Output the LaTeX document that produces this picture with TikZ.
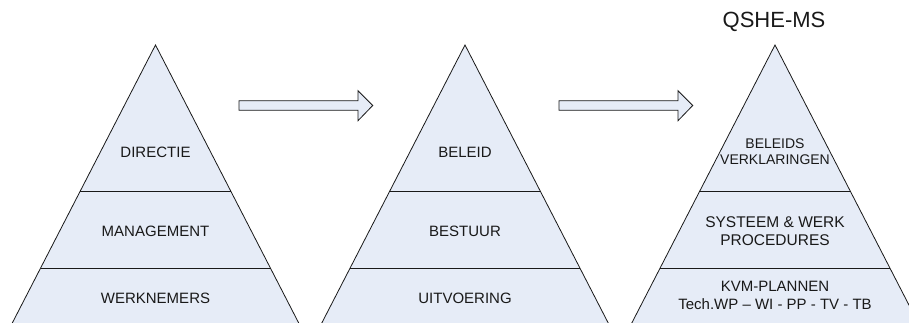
\documentclass[tikz,border=0pt]{standalone}
\usepackage{fontspec}
\setmainfont{Liberation Sans}
\definecolor{pyrfill}{RGB}{230,236,247}
\definecolor{pyrline}{RGB}{25,25,25}
\begin{document}
\begin{tikzpicture}[x=1pt,y=1pt,
  lbl/.style={font=\fontsize{15}{18}\selectfont, align=center, inner sep=0pt, text=pyrline},
  pyrside/.style={draw=pyrline, line width=0.8pt},
  blockarrow/.style={draw=pyrline, fill=pyrfill, line width=0.8pt, line join=miter}]
\useasboundingbox (0,0) rectangle (909,322);
\begin{scope}
\clip (0,0) rectangle (909,322);
\foreach \cx in {155.5,465,775} {
  \fill[pyrfill] (\cx,277) -- (\cx+153,-20) -- (\cx-153,-20) -- cycle;
  \draw[pyrside] (\cx-153,-20) -- (\cx,277) -- (\cx+153,-20);
  \draw[pyrside] (\cx-75.3,131) -- (\cx+75.3,131);
  \draw[pyrside] (\cx-115,54) -- (\cx+115,54);
}
\end{scope}
% block arrows
\foreach \ax in {239,559} {
  \draw[blockarrow] (\ax,211.7) -- (\ax+119,211.7) -- (\ax+119,201.3) -- (\ax+133.7,216.5)
     -- (\ax+119,231.3) -- (\ax+119,221.3) -- (\ax,221.3) -- cycle;
}
% labels
\node[lbl] (p1a) at (155.5,170) {DIRECTIE};
\node[lbl] (p1b) at (155.5,90.5) {MANAGEMENT};
\node[lbl] (p1c) at (155.5,24) {WERKNEMERS};
\node[lbl] (p2a) at (465,170) {BELEID};
\node[lbl] (p2b) at (465,90.5) {BESTUUR};
\node[lbl] (p2c) at (465,24) {UITVOERING};
\node[lbl, font=\fontsize{14}{16.7}\selectfont] (p3a) at (775,170.3) {BELEIDS\\VERKLARINGEN};
\node[lbl, font=\fontsize{15.5}{18.7}\selectfont] (p3b) at (775,90.7) {SYSTEEM \& WERK\\PROCEDURES};
\node[lbl, font=\fontsize{15}{18}\selectfont] (p3c) at (775,27) {KVM-PLANNEN\\Tech.WP – WI - PP - TV - TB};
\node[lbl, font=\fontsize{22}{26}\selectfont] (title) at (774,300.3) {QSHE-MS};
\end{tikzpicture}
\end{document}
